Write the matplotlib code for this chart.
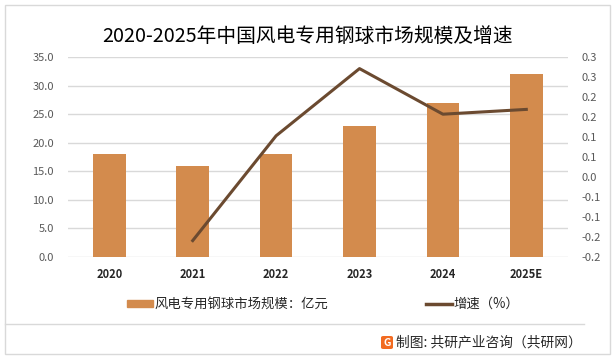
import matplotlib
matplotlib.use("Agg")
import matplotlib.pyplot as plt
from matplotlib.patches import Rectangle, FancyBboxPatch
from matplotlib.lines import Line2D

plt.rcParams['font.family'] = ['Noto Sans CJK SC', 'DejaVu Sans']

title = "2020-2025年中国风电专用钢球市场规模及增速"
years = ["2020", "2021", "2022", "2023", "2024", "2025E"]
market_size = [18, 16, 18, 23, 27, 32]
growth_years = ["2021", "2022", "2023", "2024", "2025E"]
growth = [-0.159, 0.103, 0.271, 0.157, 0.169]
left_ticks = [0, 5, 10, 15, 20, 25, 30, 35]
right_ticks = [-0.2, -0.15, -0.1, -0.05, 0.0, 0.05, 0.1, 0.15, 0.2, 0.25, 0.3]
right_labels = ["-0.2", "-0.2", "-0.1", "-0.1", "0.0", "0.1", "0.1", "0.2", "0.2", "0.3", "0.3"]
bar_label = "风电专用钢球市场规模：亿元"
line_label = "增速（%）"
footer = "制图: 共研产业咨询（共研网）"

W, H = 615, 359
fig = plt.figure(figsize=(W / 100, H / 100), dpi=100)

bar_color = "#D38B4D"
line_color = "#6B4A30"
tick_color = "#595959"

ax = fig.add_axes([67.6 / W, 1 - 257 / H, (568 - 67.6) / W, (257 - 57) / H])
x = list(range(len(years)))
ax.bar(x, market_size, width=0.39, color=bar_color, zorder=2)
ax.set_ylim(0, 35)
ax.set_yticks(left_ticks)
ax.set_yticklabels([f"{v:.1f}" for v in left_ticks])
ax.set_xlim(-0.5, len(years) - 0.5)
ax.set_xticks(x)
ax.set_xticklabels(years)
ax.grid(axis="y", color="#D9D9D9", linewidth=1, zorder=0)
for s in ax.spines.values():
    s.set_visible(False)
ax.tick_params(axis="y", length=0, labelsize=8, labelcolor=tick_color, pad=10)
ax.tick_params(axis="x", length=0, labelsize=8, labelcolor="#262626", pad=8)
for lbl in ax.get_xticklabels():
    lbl.set_fontweight("bold")

ax2 = ax.twinx()
gx = [years.index(y) for y in growth_years]
ax2.plot(gx, growth, color=line_color, linewidth=2.2, zorder=3)
ax2.set_ylim(-0.2, 0.3)
ax2.set_yticks(right_ticks)
ax2.set_yticklabels(right_labels)
for s in ax2.spines.values():
    s.set_visible(False)
ax2.tick_params(axis="y", length=0, labelsize=8, labelcolor=tick_color, pad=10)

fig.text(307.5 / W, 1 - 36 / H, title, ha="center", va="center", fontsize=14.2, color="#000000")

# legend
handles = [Rectangle((0, 0), 1, 1, color=bar_color),
           Line2D([0], [0], color=line_color, linewidth=2.5)]
leg = fig.legend(handles, [bar_label, line_label], loc="center",
                 bbox_to_anchor=(323 / W, 1 - 304 / H), ncol=2, frameon=False,
                 fontsize=9.6, handlelength=1.95, handleheight=0.45,
                 columnspacing=7.3, handletextpad=0.15,
                 borderpad=0, borderaxespad=0)
for t in leg.get_texts():
    t.set_color("#262626")

# frame and separator
fig.add_artist(Rectangle((5 / W, 1 - 354 / H), (610 - 5) / W, (354 - 5) / H,
                         transform=fig.transFigure, fill=False,
                         edgecolor="#D9D9D9", linewidth=1))
fig.add_artist(Line2D([5 / W, 584 / W], [1 - 324 / H, 1 - 324 / H],
                      transform=fig.transFigure, color="#D9D9D9", linewidth=1))

# footer logo + text
fig.add_artist(FancyBboxPatch((381 / W, 1 - 349 / H), 12 / W, 13 / H,
                              boxstyle="round,pad=0,rounding_size=0.004",
                              transform=fig.transFigure, facecolor="#F26B21",
                              edgecolor="none"))
fig.text(387 / W, 1 - 342.5 / H, "G", ha="center", va="center", fontsize=7.5,
         color="white", fontweight="bold")
fig.text(396 / W, 1 - 342 / H, footer, ha="left", va="center", fontsize=9.9, color="#262626")

fig.savefig("out.png", dpi=100)
